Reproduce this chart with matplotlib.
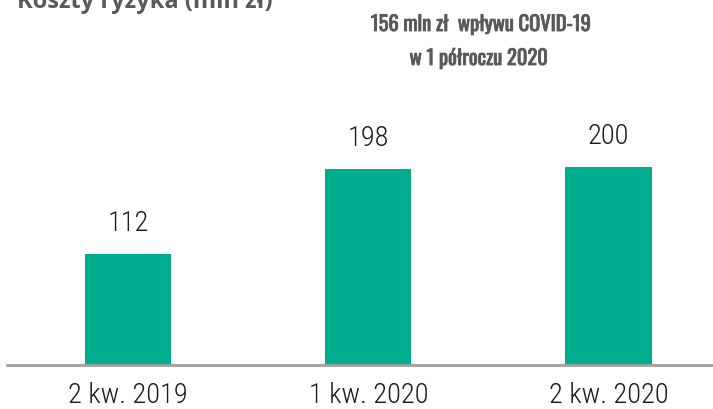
import numpy as np
import matplotlib.pyplot as plt
import matplotlib.patheffects as pe

categories = ["2 kw. 2019", "1 kw. 2020", "2 kw. 2020"]
values = [112, 198, 200]
title = "Koszty ryzyka (mln zł)"
note_lines = ["156 mln zł  wpływu COVID-19", "w 1 półroczu 2020"]

W, H = 713, 409
fig = plt.figure(figsize=(W / 100, H / 100), dpi=100)

# axes runs from the baseline (y=365 px) up to the top edge
ax = fig.add_axes([0, 44 / H, 1, 1 - 44 / H])
x = np.arange(len(categories))
ax.bar(x, values, width=0.358, color="#00AC8E", zorder=2)

ax.set_xlim(-0.533, 2.435)
ax.set_ylim(0, 368.7)
for s in ["top", "right", "left"]:
    ax.spines[s].set_visible(False)
ax.spines["bottom"].set_color("#A0A0A0")
ax.spines["bottom"].set_linewidth(2)
ax.spines["bottom"].set_bounds(-0.504, 2.435)
ax.set_yticks([])
ax.set_xticks(x)
ax.set_xticklabels(categories, family="Roboto Condensed", fontweight="light",
                   fontsize=20.5, color="#1a1a1a")
ax.tick_params(axis="x", length=0, pad=12.5)

for xi, v in zip(x, values):
    ax.text(xi, v + 17, str(v), ha="center", va="bottom",
            family="Roboto Condensed", fontweight="light", fontsize=20.5,
            color="#1a1a1a")

fig.text(17 / W, 1 - 8 / H, title, ha="left", va="baseline", fontsize=17,
         fontweight="bold", color="#595959", family="Open Sans")

# condensed bold note, one line at a time
bold = [pe.withStroke(linewidth=0.6, foreground="#595959")]
for txt, cx, base in zip(note_lines, [481, 479], [31, 65]):
    fig.text(cx / W, 1 - base / H, txt, ha="center", va="baseline",
             family="Oswald", fontweight="bold", fontsize=14.8,
             color="#595959", path_effects=bold)

fig.savefig("out.png", dpi=100)
